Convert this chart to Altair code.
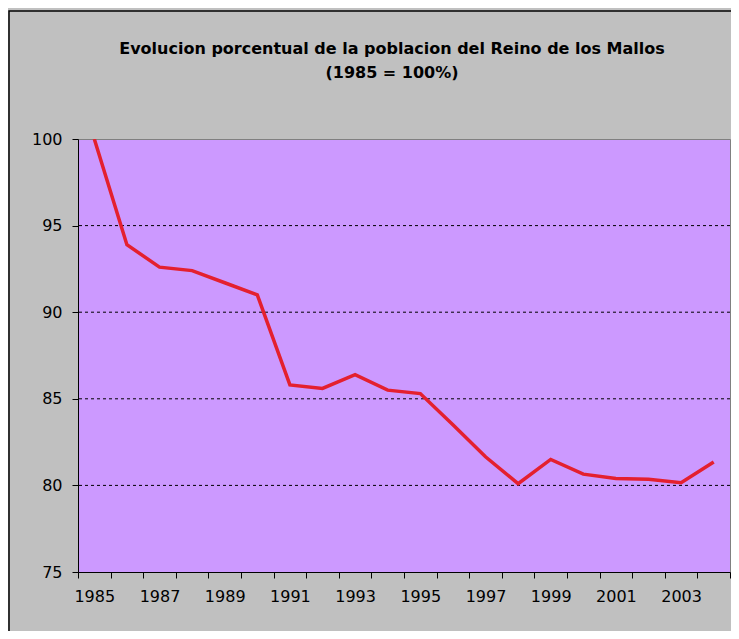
import altair as alt
import pandas as pd

years = list(range(1985, 2005))
values = [100.0, 93.9, 92.6, 92.4, 91.7, 91.0, 85.8, 85.6, 86.4, 85.5,
          85.3, 83.5, 81.65, 80.1, 81.5, 80.65, 80.4, 80.35, 80.15, 81.35]
grid_values = [80, 85, 90, 95]
y_ticks = [75, 80, 85, 90, 95, 100]
title_lines = ["Evolucion porcentual de la poblacion del Reino de los Mallos", "(1985 = 100%)"]

df = pd.DataFrame({"year": years, "value": values})
gdf = pd.DataFrame({"g": grid_values})

FONT = "DejaVu Sans"

x_enc = alt.X(
    "year:O",
    title=None,
    bandPosition=0.5,
    scale=alt.Scale(type="band", paddingInner=0, paddingOuter=0),
    axis=alt.Axis(
        tickBand="extent",
        labelAngle=0,
        labelExpr="datum.value % 2 == 1 ? datum.label : ''",
        labelFont=FONT, labelFontSize=16, labelColor="black",
        labelPadding=10, tickSize=6, tickColor="black",
        domainColor="black", grid=False,
    ),
)
y_scale = alt.Scale(domain=[75, 100], nice=False, zero=False)
y_axis = alt.Axis(
    values=y_ticks, title=None, grid=False,
    labelFont=FONT, labelFontSize=16, labelColor="black",
    labelPadding=10, tickSize=6, tickColor="black", domainColor="black",
)

frame = alt.Chart(pd.DataFrame({"k": [0]})).mark_rect(
    fillOpacity=0, stroke="black", strokeWidth=1.5, clip=False
).encode(
    x=alt.value(-69), x2=alt.value(720), y=alt.value(-128), y2=alt.value(700)
)

grid = alt.Chart(gdf).mark_rule(color="black", strokeWidth=1, strokeDash=[3, 3]).encode(
    y=alt.Y("g:Q", scale=y_scale, axis=y_axis)
)

line = alt.Chart(df).mark_line(color="#E4202F", strokeWidth=3.5, clip=True).encode(
    x=x_enc,
    y=alt.Y("value:Q", scale=y_scale, axis=y_axis),
)

chart = alt.layer(grid, line, frame).properties(
    width=652,
    height=433,
    autosize=alt.AutoSizeParams(type="none"),
    padding={"left": 70, "top": 131, "right": 1, "bottom": 59},
    background="#C0C0C0",
    title=alt.Title(
        text=title_lines, font=FONT, fontSize=16, fontWeight="bold",
        color="black", anchor="middle", frame="group", dx=-12, offset=-71,
        lineHeight=24,
    ),
).configure_view(fill="#CC99FF", stroke="#808080", strokeWidth=1)

chart.save("out.html", embed_options={"renderer": "svg", "actions": False})
